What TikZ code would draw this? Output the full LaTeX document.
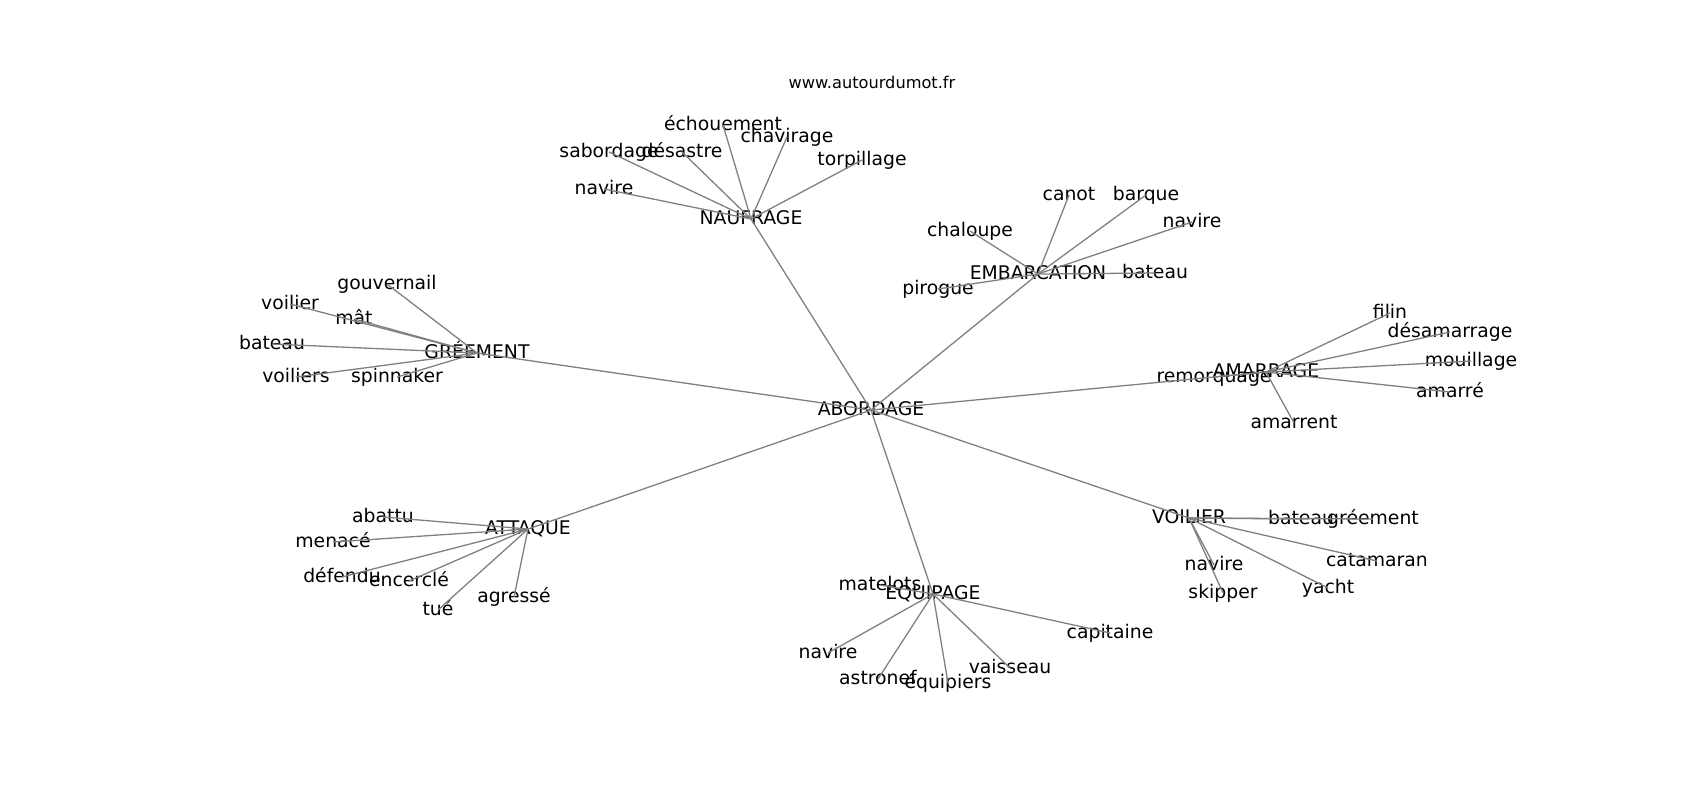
\documentclass[tikz,border=0pt]{standalone}
\usepackage{fontspec}
\setmainfont{DejaVu Sans}
\begin{document}
\begin{tikzpicture}[x=0.5pt,y=-0.5pt,
  mot/.style={inner sep=0pt, anchor=center, text height=0.76em, text depth=0.24em, font=\fontsize{9.4}{11}\selectfont},
  lien/.style={draw=gray, line width=0.65pt}]
\useasboundingbox (0,0) rectangle (1700,800);
\node[inner sep=0pt, font=\fontsize{8.1}{10}\selectfont, text height=0.76em, text depth=0.24em] (titre) at (872,83){www.autourdumot.fr};
\node[mot] (w0) at (871,410){ABORDAGE};
% naufrage
\node[mot] (w1) at (751,219){NAUFRAGE};
\node[mot] (w2) at (723,125){échouement};
\node[mot] (w3) at (787,137){chavirage};
\node[mot] (w4) at (609,152){sabordage};
\node[mot] (w5) at (682,152){désastre};
\node[mot] (w6) at (862,160){torpillage};
\node[mot] (w7) at (604,189){navire};
\draw[lien] (w1.center) -- (w2.center);
\draw[lien] (w1.center) -- (w3.center);
\draw[lien] (w1.center) -- (w4.center);
\draw[lien] (w1.center) -- (w5.center);
\draw[lien] (w1.center) -- (w6.center);
\draw[lien] (w1.center) -- (w7.center);
% embarcation
\node[mot] (w8) at (1038,274){EMBARCATION};
\node[mot] (w9) at (1069,195){canot};
\node[mot] (w10) at (1146,195){barque};
\node[mot] (w11) at (1192,222){navire};
\node[mot] (w12) at (970,231){chaloupe};
\node[mot] (w13) at (1155,273){bateau};
\node[mot] (w14) at (938,289){pirogue};
\draw[lien] (w8.center) -- (w9.center);
\draw[lien] (w8.center) -- (w10.center);
\draw[lien] (w8.center) -- (w11.center);
\draw[lien] (w8.center) -- (w12.center);
\draw[lien] (w8.center) -- (w13.center);
\draw[lien] (w8.center) -- (w14.center);
% greement
\node[mot] (w15) at (477,353){GRÉEMENT};
\node[mot] (w16) at (387,284){gouvernail};
\node[mot] (w17) at (290,304){voilier};
\node[mot] (w18) at (354,319){mât};
\node[mot] (w19) at (272,344){bateau};
\node[mot] (w20) at (296,377){voiliers};
\node[mot] (w21) at (397,377){spinnaker};
\draw[lien] (w15.center) -- (w16.center);
\draw[lien] (w15.center) -- (w17.center);
\draw[lien] (w15.center) -- (w18.center);
\draw[lien] (w15.center) -- (w19.center);
\draw[lien] (w15.center) -- (w20.center);
\draw[lien] (w15.center) -- (w21.center);
% amarrage
\node[mot] (w22) at (1266,372){AMARRAGE};
\node[mot] (w23) at (1390,313){filin};
\node[mot] (w24) at (1450,332){désamarrage};
\node[mot] (w25) at (1471,361){mouillage};
\node[mot] (w26) at (1450,392){amarré};
\node[mot] (w27) at (1214,377){remorquage};
\node[mot] (w28) at (1294,423){amarrent};
\draw[lien] (w22.center) -- (w23.center);
\draw[lien] (w22.center) -- (w24.center);
\draw[lien] (w22.center) -- (w25.center);
\draw[lien] (w22.center) -- (w26.center);
\draw[lien] (w22.center) -- (w27.center);
\draw[lien] (w22.center) -- (w28.center);
% attaque
\node[mot] (w29) at (528,529){ATTAQUE};
\node[mot] (w30) at (383,517){abattu};
\node[mot] (w31) at (333,542){menacé};
\node[mot] (w32) at (342,577){défendu};
\node[mot] (w33) at (409,581){encerclé};
\node[mot] (w34) at (514,597){agressé};
\node[mot] (w35) at (438,610){tué};
\draw[lien] (w29.center) -- (w30.center);
\draw[lien] (w29.center) -- (w31.center);
\draw[lien] (w29.center) -- (w32.center);
\draw[lien] (w29.center) -- (w33.center);
\draw[lien] (w29.center) -- (w34.center);
\draw[lien] (w29.center) -- (w35.center);
% equipage
\node[mot] (w36) at (933,594){EQUIPAGE};
\node[mot] (w37) at (880,585){matelots};
\node[mot] (w38) at (1110,633){capitaine};
\node[mot] (w39) at (828,653){navire};
\node[mot] (w40) at (1010,668){vaisseau};
\node[mot] (w41) at (878,679){astronef};
\node[mot] (w42) at (948,683){équipiers};
\draw[lien] (w36.center) -- (w37.center);
\draw[lien] (w36.center) -- (w38.center);
\draw[lien] (w36.center) -- (w39.center);
\draw[lien] (w36.center) -- (w40.center);
\draw[lien] (w36.center) -- (w41.center);
\draw[lien] (w36.center) -- (w42.center);
% voilier
\node[mot] (w43) at (1189,518){VOILIER};
\node[mot] (w44) at (1301,519){bateau};
\node[mot] (w45) at (1373,519){gréement};
\node[mot] (w46) at (1377,561){catamaran};
\node[mot] (w47) at (1214,565){navire};
\node[mot] (w48) at (1328,588){yacht};
\node[mot] (w49) at (1223,593){skipper};
\draw[lien] (w43.center) -- (w44.center);
\draw[lien] (w43.center) -- (w45.center);
\draw[lien] (w43.center) -- (w46.center);
\draw[lien] (w43.center) -- (w47.center);
\draw[lien] (w43.center) -- (w48.center);
\draw[lien] (w43.center) -- (w49.center);
% centre
\draw[lien] (w0.center) -- (w1.center);
\draw[lien] (w0.center) -- (w8.center);
\draw[lien] (w0.center) -- (w15.center);
\draw[lien] (w0.center) -- (w22.center);
\draw[lien] (w0.center) -- (w29.center);
\draw[lien] (w0.center) -- (w36.center);
\draw[lien] (w0.center) -- (w43.center);
\end{tikzpicture}
\end{document}
